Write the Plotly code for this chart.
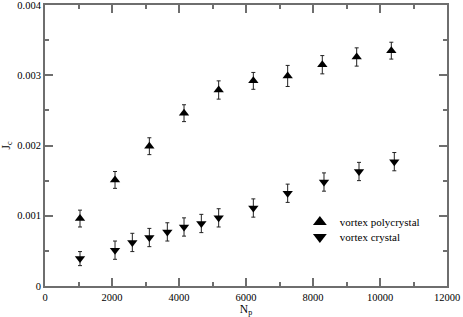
import plotly.graph_objects as go

np_poly = [1045, 2090, 3115, 4150, 5184, 6219, 7244, 8278, 9304, 10338]
jc_poly = [0.00096, 0.00151, 0.00199, 0.00246, 0.00279, 0.00292, 0.00299, 0.00315, 0.00326, 0.00335]
err_poly = [0.00012, 0.00012, 0.00012, 0.00012, 0.00013, 0.00012, 0.00015, 0.00013, 0.00013, 0.00012]

np_cryst = [1045, 2090, 2607, 3115, 3652, 4150, 4667, 5184, 6219, 7244, 8328, 9373, 10427]
jc_cryst = [0.00039, 0.00051, 0.00062, 0.00069, 0.00077, 0.00084, 0.00089, 0.00097, 0.00111, 0.00132, 0.00148, 0.00163, 0.00177]
err_cryst = [0.00010, 0.00013, 0.00013, 0.00013, 0.00013, 0.00013, 0.00013, 0.00013, 0.00013, 0.00013, 0.00013, 0.00013, 0.00013]

font = "Liberation Serif"

fig = go.Figure()
fig.add_trace(go.Scatter(
    x=np_poly, y=jc_poly, mode="markers", name="vortex polycrystal", legend="legend",
    marker=dict(symbol="triangle-up", size=9, color="black"),
    error_y=dict(type="data", array=err_poly, color="#222222", thickness=1, width=2),
))
fig.add_trace(go.Scatter(
    x=np_cryst, y=jc_cryst, mode="markers", name="vortex crystal", legend="legend2",
    marker=dict(symbol="triangle-down", size=9, color="black"),
    error_y=dict(type="data", array=err_cryst, color="#222222", thickness=1, width=2),
))

axis_common = dict(
    showline=True, linecolor="#6e6e6e", linewidth=2, mirror="allticks",
    ticks="inside", ticklen=8, tickwidth=1.5, tickcolor="#6e6e6e",
    showgrid=False, zeroline=False, automargin=False, ticklabeloverflow="allow",
    tickfont=dict(family=font, size=10.5, color="black"),
)

fig.update_xaxes(
    range=[0, 12000], dtick=2000, tick0=0, tickformat="d",
    minor=dict(dtick=1000, ticks="inside", ticklen=4, tickcolor="#6e6e6e", tickwidth=1.5),
    title=dict(text="N<sub>p</sub>", font=dict(family=font, size=11.5, color="black"), standoff=3),
    **axis_common,
)
fig.update_yaxes(
    range=[0, 0.004], dtick=0.001, tick0=0,
    minor=dict(dtick=0.0005, ticks="inside", ticklen=4, tickcolor="#6e6e6e", tickwidth=1.5),
    title=dict(text="J<sub>c</sub>", font=dict(family=font, size=11.5, color="black"), standoff=8),
    **axis_common,
)

legend_common = dict(xanchor="left", yanchor="middle", bgcolor="rgba(0,0,0,0)",
                     font=dict(family=font, size=11, color="black"), itemsizing="constant")

fig.update_layout(
    width=463, height=317,
    margin=dict(l=45, r=16, t=5, b=31),
    paper_bgcolor="white", plot_bgcolor="white",
    showlegend=True,
    legend=dict(x=0.634, y=(286 - 222) / 281, **legend_common),
    legend2=dict(x=0.634, y=(286 - 237) / 281, **legend_common),
    font=dict(family=font),
)

fig.write_html(
    "out.html",
    config={"displayModeBar": False},
    post_script="document.body.style.margin='0';document.body.style.padding='0';document.body.style.overflow='hidden';",
)
